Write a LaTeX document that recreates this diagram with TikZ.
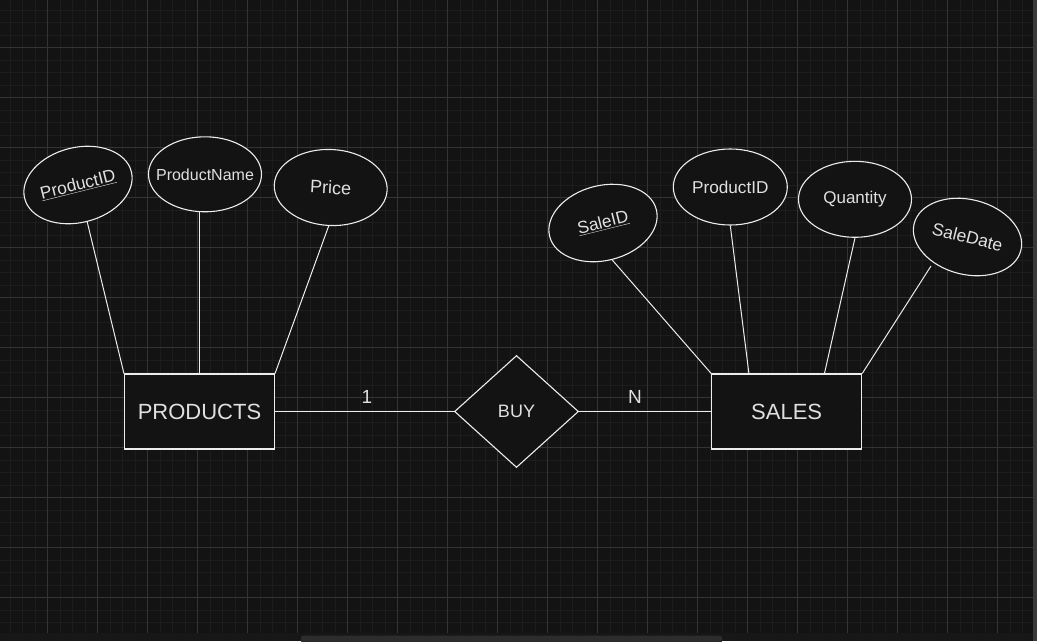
\documentclass[tikz,border=0pt]{standalone}
\usepackage{fontspec}
\setmainfont{Liberation Sans}
\usetikzlibrary{shapes.geometric,calc}
\definecolor{bgc}{HTML}{131313}
\definecolor{minorc}{HTML}{1D1D1D}
\definecolor{majorc}{HTML}{343434}
\definecolor{linec}{HTML}{EDEDED}
\definecolor{txtc}{HTML}{E0E0E0}
\definecolor{barc}{HTML}{171717}
\definecolor{thumbc}{HTML}{2C2C2C}
\definecolor{vbarc}{HTML}{3A3A3A}
\tikzset{
  attr/.style={ellipse, draw=linec, fill=bgc, line width=1.1pt, inner sep=-20pt,
    minimum width=112pt, minimum height=75pt, text=txtc},
  entity/.style={rectangle, draw=linec, fill=bgc, line width=1.1pt, inner sep=0pt,
    minimum width=150pt, minimum height=75pt, text=txtc,
    font=\fontsize{22}{26}\selectfont},
  rel/.style={diamond, draw=linec, fill=bgc, line width=1.1pt, inner sep=0pt,
    minimum width=124pt, minimum height=112pt, text=txtc,
    font=\fontsize{18}{22}\selectfont},
  conn/.style={draw=linec, line width=1pt},
  card/.style={text=txtc, inner sep=0pt, font=\fontsize{19}{22}\selectfont},
}
\begin{document}
\begin{tikzpicture}[x=1pt,y=-1pt]
% background and canvas
\fill[bgc] (0,0) rectangle (1037,641);
\useasboundingbox (0,0) rectangle (1037,641);
\foreach \i in {0,...,82} {
  \draw[minorc, line width=1pt] ({10+12.5*\i},0) -- ({10+12.5*\i},632.7);
}
\foreach \i in {0,...,49} {
  \draw[minorc, line width=1pt] (0,{10+12.5*\i}) -- (1032.7,{10+12.5*\i});
}
\foreach \i in {0,...,19} {
  \draw[majorc, line width=1pt] ({47.5+50*\i},0) -- ({47.5+50*\i},632.7);
}
\foreach \i in {0,...,11} {
  \draw[majorc, line width=1pt] (0,{47.5+50*\i}) -- (1032.7,{47.5+50*\i});
}
\fill[barc] (0,632.7) rectangle (1037,641);
\fill[vbarc] (1032.7,0) rectangle (1037,641);
\fill[thumbc, rounded corners=2pt] (301,635.7) rectangle (722,643);

% entities and relationship
\node[entity] (prod) at (199.5,411.5) {PRODUCTS};
\node[rel] (buy) at (516.5,411.5) {BUY};
\node[entity] (sales) at (786.7,411.5) {SALES};

% attributes of PRODUCTS
\node[attr, minimum width=110pt, rotate=14, font=\fontsize{17.3}{20}\selectfont] (pid) at (78,185) {\underline{ProductID}};
\node[attr, minimum width=113pt, font=\fontsize{16}{19}\selectfont] (pname) at (205,174.3) {ProductName};
\node[attr, minimum width=113pt, minimum height=76pt, rotate=-3, font=\fontsize{18}{21}\selectfont] (price) at (330.7,187.5) {Price};

% attributes of SALES
\node[attr, minimum width=110pt, rotate=14, font=\fontsize{17.3}{20}\selectfont] (sid) at (603,223) {\underline{SaleID}};
\node[attr, minimum width=114pt, minimum height=76pt, font=\fontsize{17.2}{20}\selectfont] (pid2) at (730.3,187) {ProductID};
\node[attr, minimum width=113pt, minimum height=76pt, font=\fontsize{17}{20}\selectfont] (qty) at (855,199.3) {Quantity};
\node[attr, minimum width=110pt, rotate=-14, font=\fontsize{17.5}{20}\selectfont] (sdate) at (967.5,237) {SaleDate};

% connection points
\coordinate (s1) at ($(sales.north west)!0.25!(sales.north east)$);
\coordinate (s3) at ($(sales.north west)!0.75!(sales.north east)$);
\coordinate (sdq) at (931,266);

% connectors
\draw[conn] (pid.south) -- (prod.north west);
\draw[conn] (prod.north |- pname.south) -- (prod.north);
\draw[conn] (price.south) -- (prod.north east);
\draw[conn] (sid.south) -- (sales.north west);
\draw[conn] (pid2.south) -- (s1);
\draw[conn] (qty.south) -- (s3);
\draw[conn] (sdq) -- (sales.north east);
\draw[conn] (prod.east) -- (buy.west);
\draw[conn] (buy.east) -- (sales.west);

% cardinalities
\node[card] (c1) at (367,397) {1};
\node[card] (cn) at (635,397) {N};
\end{tikzpicture}
\end{document}
